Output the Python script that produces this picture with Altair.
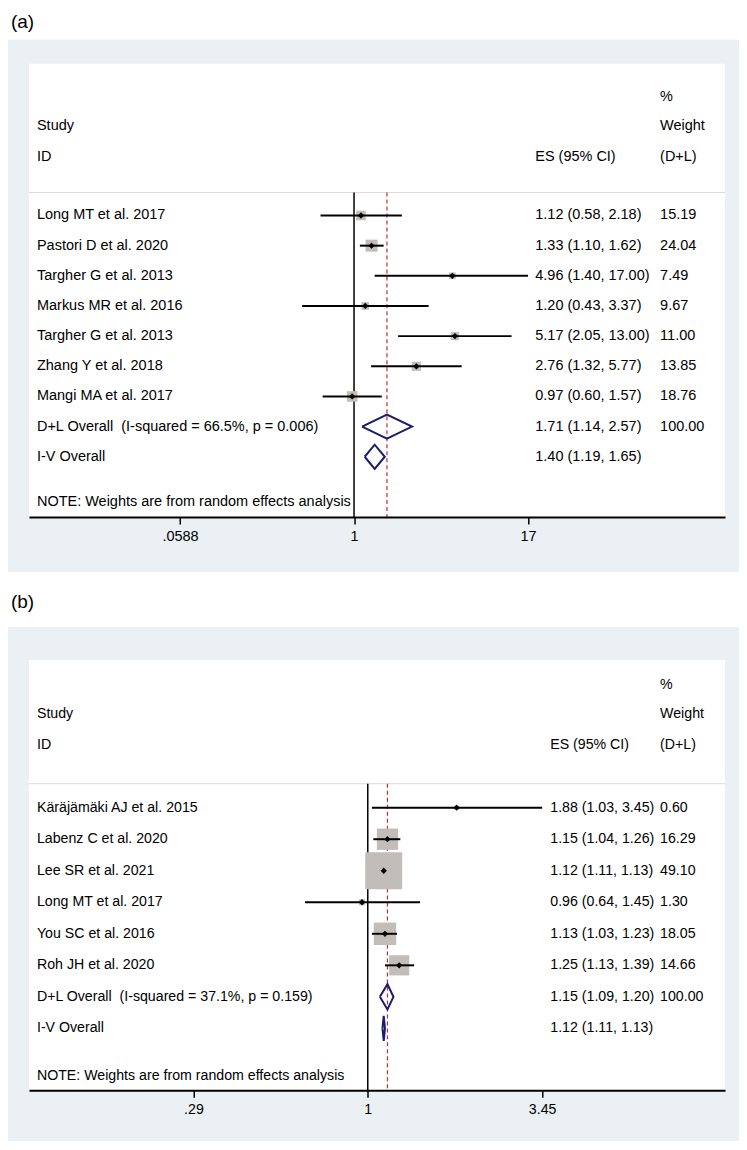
import math
import altair as alt
import pandas as pd

FONT = "Liberation Sans"
NAVY = "#1c1c6c"
BOXGREY = "#c2bdb9"
FRAME = "#eaf0f3"
RED = "#b8322e"

# ---------------- panel (a) data ----------------
studies_a = ["Long MT et al. 2017", "Pastori D et al. 2020", "Targher G et al. 2013",
             "Markus MR et al. 2016", "Targher G et al. 2013", "Zhang Y et al. 2018",
             "Mangi MA et al. 2017"]
es_a = [1.12, 1.33, 4.96, 1.20, 5.17, 2.76, 0.97]
lo_a = [0.58, 1.10, 1.40, 0.43, 2.05, 1.32, 0.60]
hi_a = [2.18, 1.62, 17.00, 3.37, 13.00, 5.77, 1.57]
wt_a = [15.19, 24.04, 7.49, 9.67, 11.00, 13.85, 18.76]
ov_names_a = ["D+L Overall\u00a0 (I-squared = 66.5%, p = 0.006)", "I-V Overall"]
ov_es_a = [1.71, 1.40]
ov_lo_a = [1.14, 1.19]
ov_hi_a = [2.57, 1.65]
ov_wt_a = ["100.00", ""]
ticks_a = [0.0588, 1, 17]
tick_labels_a = [".0588", "1", "17"]

# ---------------- panel (b) data ----------------
studies_b = ["Käräjämäki AJ et al. 2015", "Labenz C et al. 2020", "Lee SR et al. 2021",
             "Long MT et al. 2017", "You SC et al. 2016", "Roh JH et al. 2020"]
es_b = [1.88, 1.15, 1.12, 0.96, 1.13, 1.25]
lo_b = [1.03, 1.04, 1.11, 0.64, 1.03, 1.13]
hi_b = [3.45, 1.26, 1.13, 1.45, 1.23, 1.39]
wt_b = [0.60, 16.29, 49.10, 1.30, 18.05, 14.66]
ov_names_b = ["D+L Overall\u00a0 (I-squared = 37.1%, p = 0.159)", "I-V Overall"]
ov_es_b = [1.15, 1.12]
ov_lo_b = [1.09, 1.11]
ov_hi_b = [1.20, 1.13]
ov_wt_b = ["100.00", ""]
ticks_b = [0.29, 1, 3.45]
tick_labels_b = [".29", "1", "3.45"]

header_left = ["Study", "ID"]
header_es = "ES (95% CI)"
header_w = ["%", "Weight", "(D+L)"]
note_text = "NOTE: Weights are from random effects analysis"

W = 697


def label_expr(vals, labs):
    expr = "''"
    for v, l in reversed(list(zip(vals, labs))):
        expr = f"abs(datum.value - {v}) < 1e-6 ? '{l}' : " + expr
    return expr


def panel(tag, studies, es, lo, hi, wt, ov_names, ov_es, ov_lo, ov_hi, ov_wt,
          ticks, tick_labels, cfg):
    H = cfg["H"]
    fs = cfg["fs"]
    n = len(studies)
    one = pd.DataFrame({"k": [0]})

    xscale = alt.Scale(type="log", domain=cfg["xdom"], nice=False, zero=False)
    xaxis = alt.Axis(values=ticks, labelExpr=label_expr(ticks, tick_labels), title=None,
                     grid=False, domainColor="black", domainWidth=2, tickColor="black",
                     tickWidth=1.5, tickSize=7, labelFont=FONT, labelFontSize=fs,
                     labelColor="black", labelPadding=5, labelOverlap=False, labelFlush=False,
                     zindex=2)
    yscale = alt.Scale(domain=cfg["ydom"], reverse=True, nice=False, zero=False)

    def X(field=None, datum=None):
        if datum is not None:
            return alt.X(datum=datum, type="quantitative", scale=xscale, axis=xaxis)
        return alt.X(field, type="quantitative", scale=xscale, axis=xaxis)

    def Y(field=None, datum=None):
        if datum is not None:
            return alt.Y(datum=datum, type="quantitative", scale=yscale, axis=None)
        return alt.Y(field, type="quantitative", scale=yscale, axis=None)

    df = pd.DataFrame({"row": list(range(1, n + 1)), "study": studies, "es": es,
                       "lo": lo, "hi": hi, "w": wt})
    df["es_txt"] = [f"{e:.2f} ({l:.2f}, {h:.2f})" for e, l, h in zip(es, lo, hi)]
    df["w_txt"] = [f"{w:.2f}" for w in wt]

    od = pd.DataFrame({"row": [n + 1 + i for i in range(len(ov_names))], "study": ov_names,
                       "es": ov_es, "lo": ov_lo, "hi": ov_hi, "w_txt": ov_wt})
    od["es_txt"] = [f"{e:.2f} ({l:.2f}, {h:.2f})" for e, l, h in zip(ov_es, ov_lo, ov_hi)]

    dpts = []
    for i, r in od.iterrows():
        pts = [(r.lo, r.row), (r.es, r.row - 0.4), (r.hi, r.row), (r.es, r.row + 0.4), (r.lo, r.row)]
        for s, (xx, yy) in enumerate(pts):
            dpts.append({"key": i, "seq": s, "x": xx, "y": yy})
    dd = pd.DataFrame(dpts)

    frame = alt.Chart(one).mark_rect(color=FRAME).encode(
        x=alt.value(-24), x2=alt.value(W + 19), y=alt.value(cfg["ftop"]), y2=alt.value(H + 55))
    inner = alt.Chart(one).mark_rect(color="white").encode(
        x=alt.value(0), x2=alt.value(W), y=alt.value(0), y2=alt.value(H))
    tagtxt = alt.Chart(one).mark_text(text=tag, font=FONT, fontSize=19, align="left",
                                      baseline="middle", color="black").encode(
        x=alt.value(-18), y=alt.value(cfg["tagy"]))

    sep = alt.Chart(one).mark_rule(color="#e2d8d8", strokeWidth=1).encode(
        x=alt.value(0), x2=alt.value(W), y=Y(datum=cfg["sep"]))
    null = alt.Chart(one).mark_rule(color="black", strokeWidth=1.5).encode(
        x=X(datum=1), y=Y(datum=cfg["sep"]), y2=alt.value(H))
    dash = alt.Chart(od.iloc[[0]]).mark_rule(color=RED, strokeWidth=1.2, strokeDash=[4, 3]).encode(
        x=X("es"), y=Y(datum=cfg["sep"]), y2=alt.value(H))

    boxes = alt.Chart(df).mark_square(color=BOXGREY, opacity=1).encode(
        x=X("es"), y=Y("row"),
        size=alt.Size("w:Q", scale=alt.Scale(domain=[0, 50], range=[0, 50 * cfg["k"]]), legend=None))
    ci = alt.Chart(df).mark_rule(color="black", strokeWidth=2).encode(
        x=X("lo"), x2=alt.X2("hi"), y=Y("row"))
    pts = alt.Chart(df).mark_point(shape="diamond", filled=True, color="black", size=40, opacity=1).encode(
        x=X("es"), y=Y("row"))
    dia = alt.Chart(dd).mark_line(color=NAVY, strokeWidth=2, strokeJoin="miter").encode(
        x=X("x"), y=Y("y"), detail="key:N", order="seq:Q")

    txt = dict(font=FONT, fontSize=fs, align="left", baseline="middle", color="black")
    allrows = pd.concat([df[["row", "study", "es_txt", "w_txt"]], od[["row", "study", "es_txt", "w_txt"]]])
    lab = alt.Chart(allrows).mark_text(**txt).encode(x=alt.value(8), y=Y("row"), text="study:N")
    est = alt.Chart(allrows).mark_text(**txt).encode(x=alt.value(cfg["esx"]), y=Y("row"), text="es_txt:N")
    wtt = alt.Chart(allrows).mark_text(**txt).encode(x=alt.value(632), y=Y("row"), text="w_txt:N")

    hdr = []
    hdr.append(alt.Chart(one).mark_text(text=header_left[0], **txt).encode(x=alt.value(8), y=Y(datum=cfg["h2"])))
    hdr.append(alt.Chart(one).mark_text(text=header_left[1], **txt).encode(x=alt.value(8), y=Y(datum=cfg["h3"])))
    hdr.append(alt.Chart(one).mark_text(text=header_es, **txt).encode(x=alt.value(cfg["esx"]), y=Y(datum=cfg["h3"])))
    for t, hy in zip(header_w, [cfg["h1"], cfg["h2"], cfg["h3"]]):
        hdr.append(alt.Chart(one).mark_text(text=t, **txt).encode(x=alt.value(632), y=Y(datum=hy)))
    note = alt.Chart(one).mark_text(text=note_text, **txt).encode(x=alt.value(8), y=Y(datum=cfg["note"]))

    layers = [frame, inner, tagtxt, sep, null, dash, boxes, ci, pts, dia, lab, est, wtt, note] + hdr
    return alt.layer(*layers).properties(width=W, height=H)


cfg_a = dict(H=454, fs=14.5, xdom=[math.exp(-5.293), math.exp(6.041)], ydom=[-4.033, 11.0],
             ftop=-24, tagy=-42, sep=0.238, k=6.0, esx=507, h1=-2.94, h2=-1.98, h3=-0.937, note=10.49)
cfg_b = dict(H=431, fs=14.2, xdom=[math.exp(-2.406), math.exp(2.537)], ydom=[-3.688, 9.964],
             ftop=-33, tagy=-58, sep=0.240, k=27.9, esx=522, h1=-2.896, h2=-1.978, h3=-0.996, note=9.511)

pa = panel("(a)", studies_a, es_a, lo_a, hi_a, wt_a, ov_names_a, ov_es_a, ov_lo_a, ov_hi_a, ov_wt_a,
           ticks_a, tick_labels_a, cfg_a)
pb = panel("(b)", studies_b, es_b, lo_b, hi_b, wt_b, ov_names_b, ov_es_b, ov_lo_b, ov_hi_b, ov_wt_b,
           ticks_b, tick_labels_b, cfg_b)

chart = alt.vconcat(pa, pb, spacing=143, bounds="flush").resolve_scale(
    x="independent", y="independent", size="independent"
).properties(
    padding={"left": -4, "top": 3, "right": -6, "bottom": -6}
).configure_view(stroke=None).configure(background="white")

chart.save("out.html", embed_options={"renderer": "svg", "actions": False})
